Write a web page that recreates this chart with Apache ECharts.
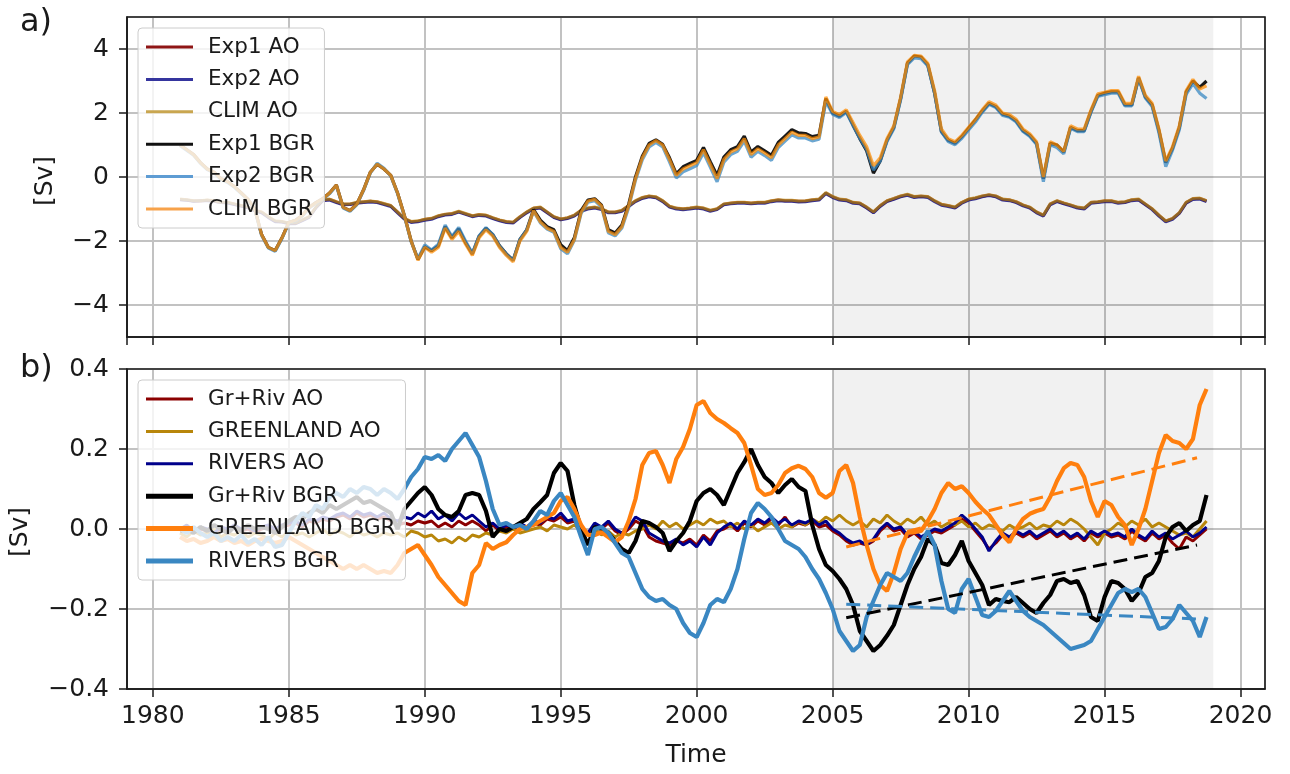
<!DOCTYPE html>
<html>
<head>
<meta charset="utf-8">
<title>Volume transport</title>
<script src="https://cdn.jsdelivr.net/npm/echarts@6/dist/echarts.min.js"></script>
<style>
  html, body { margin: 0; padding: 0; background: #fff; }
  #chart { width: 1290px; height: 774px; }
</style>
</head>
<body>
<div id="chart"></div>
<script>
// Quarterly samples, 1981.0 .. 2018.75
const START_YEAR = 1981;
const STEP = 0.25;

// ---------- panel a) : transports [Sv] ----------
const exp1AO = [
  -0.70, -0.72, -0.75, -0.75,  -0.73, -0.75, -0.80, -0.80,  -0.85, -0.90, -0.95, -1.05,  -1.10, -1.25, -1.38, -1.40,
  -1.45, -1.45, -1.35, -1.25,  -0.95, -0.72, -0.70, -0.78,  -0.85, -0.85, -0.80, -0.78,  -0.76, -0.78, -0.84, -0.90,
  -1.10, -1.30, -1.40, -1.38,  -1.33, -1.30, -1.22, -1.17,  -1.15, -1.08, -1.15, -1.22,  -1.18, -1.20, -1.28, -1.35,
  -1.40, -1.42, -1.25, -1.10,  -0.98, -0.95, -1.10, -1.25,  -1.32, -1.28, -1.20, -1.05,  -0.98, -0.95, -1.00, -1.10,
  -1.10, -1.05, -0.90, -0.75,  -0.65, -0.60, -0.63, -0.75,  -0.92, -0.98, -1.00, -0.98,  -0.95, -0.98, -1.05, -1.00,
  -0.85, -0.82, -0.80, -0.80,  -0.82, -0.80, -0.80, -0.75,  -0.72, -0.74, -0.74, -0.76,  -0.75, -0.72, -0.70, -0.50,
  -0.62, -0.70, -0.72, -0.80,  -0.82, -0.95, -1.10, -0.90,  -0.75, -0.68, -0.60, -0.55,  -0.62, -0.60, -0.62, -0.75,
  -0.86, -0.90, -0.95, -0.80,  -0.70, -0.66, -0.60, -0.56,  -0.60, -0.70, -0.72, -0.78,  -0.88, -0.95, -1.10, -1.20,
  -0.85, -0.75, -0.82, -0.88,  -0.95, -0.98, -0.80, -0.78,  -0.75, -0.75, -0.80, -0.78,  -0.72, -0.70, -0.85, -1.00,
  -1.20, -1.38, -1.30, -1.12,  -0.80, -0.68, -0.67, -0.75
];
const exp2AO = [
  -0.71, -0.73, -0.76, -0.74,  -0.74, -0.76, -0.80, -0.81,  -0.86, -0.91, -0.96, -1.06,  -1.12, -1.27, -1.40, -1.41,
  -1.46, -1.46, -1.36, -1.26,  -0.96, -0.74, -0.72, -0.80,  -0.87, -0.86, -0.82, -0.80,  -0.78, -0.80, -0.86, -0.92,
  -1.12, -1.32, -1.42, -1.40,  -1.35, -1.32, -1.24, -1.19,  -1.17, -1.10, -1.17, -1.24,  -1.20, -1.22, -1.30, -1.37,
  -1.42, -1.44, -1.27, -1.12,  -1.00, -0.97, -1.12, -1.27,  -1.34, -1.30, -1.22, -1.07,  -1.00, -0.97, -1.02, -1.12,
  -1.12, -1.07, -0.92, -0.77,  -0.67, -0.62, -0.65, -0.77,  -0.94, -1.00, -1.02, -1.00,  -0.97, -1.00, -1.07, -1.02,
  -0.87, -0.84, -0.82, -0.82,  -0.84, -0.82, -0.82, -0.77,  -0.74, -0.76, -0.76, -0.78,  -0.77, -0.74, -0.72, -0.52,
  -0.64, -0.72, -0.74, -0.82,  -0.84, -0.97, -1.12, -0.92,  -0.77, -0.70, -0.62, -0.57,  -0.64, -0.62, -0.64, -0.77,
  -0.88, -0.92, -0.97, -0.82,  -0.72, -0.68, -0.62, -0.58,  -0.62, -0.72, -0.74, -0.80,  -0.90, -0.97, -1.12, -1.22,
  -0.87, -0.77, -0.84, -0.90,  -0.97, -1.00, -0.82, -0.80,  -0.77, -0.77, -0.82, -0.80,  -0.74, -0.72, -0.87, -1.02,
  -1.22, -1.40, -1.32, -1.14,  -0.82, -0.70, -0.69, -0.77
];
const climAO = [
  -0.69, -0.71, -0.74, -0.74,  -0.72, -0.74, -0.79, -0.79,  -0.84, -0.89, -0.94, -1.04,  -1.09, -1.24, -1.37, -1.39,
  -1.44, -1.44, -1.34, -1.24,  -0.94, -0.71, -0.69, -0.77,  -0.84, -0.84, -0.79, -0.77,  -0.75, -0.77, -0.83, -0.89,
  -1.09, -1.29, -1.39, -1.37,  -1.32, -1.29, -1.21, -1.16,  -1.14, -1.07, -1.14, -1.21,  -1.17, -1.19, -1.27, -1.34,
  -1.39, -1.41, -1.24, -1.09,  -0.97, -0.94, -1.09, -1.24,  -1.31, -1.27, -1.19, -1.04,  -0.97, -0.94, -0.99, -1.09,
  -1.09, -1.04, -0.89, -0.74,  -0.64, -0.59, -0.62, -0.74,  -0.91, -0.97, -0.99, -0.97,  -0.94, -0.97, -1.04, -0.99,
  -0.84, -0.81, -0.79, -0.79,  -0.81, -0.79, -0.79, -0.74,  -0.71, -0.73, -0.73, -0.75,  -0.74, -0.71, -0.69, -0.49,
  -0.61, -0.69, -0.71, -0.79,  -0.81, -0.94, -1.09, -0.89,  -0.74, -0.67, -0.59, -0.54,  -0.61, -0.59, -0.61, -0.74,
  -0.85, -0.89, -0.94, -0.79,  -0.69, -0.65, -0.59, -0.55,  -0.59, -0.69, -0.71, -0.77,  -0.87, -0.94, -1.09, -1.19,
  -0.84, -0.74, -0.81, -0.87,  -0.94, -0.97, -0.79, -0.77,  -0.74, -0.74, -0.79, -0.77,  -0.71, -0.69, -0.84, -0.99,
  -1.19, -1.37, -1.29, -1.11,  -0.79, -0.67, -0.66, -0.74
];
const exp1BGR = [
   1.00,  0.85,  0.70,  0.45,   0.25,  0.15, -0.05, -0.15,  -0.30, -0.50, -0.70, -1.00,  -1.80, -2.20, -2.30, -1.90,
  -1.42, -1.35, -1.20, -0.95,  -0.80, -0.68, -0.50, -0.25,  -0.95, -1.05, -0.85, -0.40,   0.15,  0.40,  0.25,  0.05,
  -0.50, -1.20, -2.00, -2.58,  -2.18, -2.30, -2.15, -1.55,  -1.90, -1.62, -2.05, -2.40,  -1.85, -1.60, -1.80, -2.15,
  -2.40, -2.60, -1.95, -1.65,  -1.02, -1.35, -1.55, -1.65,  -2.12, -2.30, -1.90, -1.05,  -0.72, -0.68, -0.88, -1.65,
  -1.75, -1.50, -0.85,  0.00,   0.65,  1.05,  1.16,  1.02,   0.60,  0.10,  0.32,  0.42,   0.52,  0.92,  0.48,  0.05,
   0.62,  0.85,  0.95,  1.28,   0.78,  0.95,  0.82,  0.68,   1.08,  1.28,  1.48,  1.38,   1.36,  1.26,  1.30,  2.45,
   2.00,  1.90,  2.05,  1.62,   1.20,  0.82,  0.12,  0.50,   1.15,  1.55,  2.45,  3.55,   3.78,  3.75,  3.50,  2.62,
   1.42,  1.15,  1.05,  1.26,   1.52,  1.78,  2.06,  2.30,   2.20,  1.96,  1.90,  1.75,   1.45,  1.30,  1.05, -0.05,
   1.05,  1.00,  0.78,  1.55,   1.45,  1.45,  2.05,  2.55,   2.62,  2.66,  2.66,  2.25,   2.25,  3.10,  2.50,  2.25,
   1.45,  0.45,  0.90,  1.55,   2.65,  3.00,  2.80,  3.00
];
const exp2BGR = [
   0.98,  0.83,  0.68,  0.43,   0.23,  0.13, -0.07, -0.17,  -0.32, -0.52, -0.72, -1.02,  -1.82, -2.22, -2.32, -1.92,
  -1.44, -1.37, -1.22, -0.97,  -0.82, -0.70, -0.52, -0.27,  -0.97, -1.07, -0.87, -0.42,   0.13,  0.43,  0.27,  0.03,
  -0.52, -1.22, -2.02, -2.55,  -2.12, -2.28, -2.10, -1.50,  -1.86, -1.58, -2.00, -2.38,  -1.84, -1.58, -1.79, -2.16,
  -2.41, -2.61, -1.95, -1.66,  -1.07, -1.43, -1.63, -1.73,  -2.24, -2.40, -1.98, -1.14,  -0.79, -0.74, -0.94, -1.74,
  -1.84, -1.59, -0.95, -0.10,   0.54,  0.94,  1.08,  0.94,   0.47, -0.03,  0.16,  0.26,   0.36,  0.76,  0.31, -0.15,
   0.46,  0.70,  0.80,  1.12,   0.62,  0.80,  0.67,  0.52,   0.92,  1.12,  1.32,  1.22,   1.22,  1.13,  1.18,  2.36,
   1.96,  1.86,  2.02,  1.61,   1.21,  0.86,  0.22,  0.50,   1.11,  1.51,  2.41,  3.51,   3.72,  3.70,  3.47,  2.61,
   1.41,  1.11,  1.01,  1.21,   1.47,  1.72,  2.02,  2.27,   2.17,  1.92,  1.87,  1.72,   1.42,  1.27,  1.02, -0.15,
   1.01,  0.92,  0.72,  1.52,   1.42,  1.42,  2.02,  2.52,   2.57,  2.62,  2.62,  2.22,   2.22,  3.07,  2.47,  2.20,
   1.38,  0.32,  0.84,  1.48,   2.58,  2.92,  2.62,  2.45
];
const climBGR = [
   1.00,  0.85,  0.70,  0.45,   0.25,  0.15, -0.05, -0.15,  -0.30, -0.50, -0.70, -1.00,  -1.80, -2.20, -2.30, -1.90,
  -1.42, -1.35, -1.20, -0.95,  -0.80, -0.68, -0.50, -0.25,  -0.95, -1.05, -0.85, -0.40,   0.15,  0.40,  0.25,  0.05,
  -0.50, -1.20, -2.00, -2.60,  -2.20, -2.35, -2.20, -1.60,  -1.95, -1.70, -2.10, -2.45,  -1.90, -1.65, -1.85, -2.20,
  -2.45, -2.65, -2.00, -1.70,  -1.05, -1.40, -1.60, -1.70,  -2.20, -2.35, -1.95, -1.10,  -0.75, -0.70, -0.90, -1.70,
  -1.80, -1.55, -0.90, -0.05,   0.60,  1.00,  1.14,  1.00,   0.55,  0.05,  0.25,  0.35,   0.45,  0.85,  0.40, -0.05,
   0.55,  0.78,  0.88,  1.20,   0.70,  0.88,  0.75,  0.60,   1.00,  1.20,  1.40,  1.30,   1.30,  1.20,  1.25,  2.50,
   2.05,  1.95,  2.10,  1.70,   1.30,  0.95,  0.35,  0.60,   1.20,  1.60,  2.50,  3.60,   3.80,  3.78,  3.55,  2.70,
   1.50,  1.20,  1.10,  1.30,   1.55,  1.80,  2.10,  2.35,   2.25,  2.00,  1.95,  1.80,   1.50,  1.35,  1.10,  0.00,
   1.10,  1.00,  0.80,  1.60,   1.50,  1.50,  2.10,  2.60,   2.65,  2.70,  2.70,  2.30,   2.30,  3.15,  2.55,  2.30,
   1.50,  0.50,  0.95,  1.60,   2.70,  3.05,  2.75,  2.85
];

// ---------- panel b) : freshwater forcing contributions [Sv] ----------
const grRivAO = [
  -0.005, 0.005, -0.010, 0.000,  -0.005, -0.015, 0.000, -0.005,  0.005, -0.005, 0.000, -0.010,  0.000, 0.005, -0.005, 0.005,
   0.010, 0.015, 0.005, 0.020,   0.015, 0.025, 0.020, 0.030,   0.035, 0.025, 0.040, 0.030,   0.035, 0.025, 0.030, 0.020,
   0.010, 0.015, 0.010, 0.020,   0.015, 0.020, 0.005, 0.015,   0.005, 0.020, 0.010, 0.020,   0.010, -0.005, 0.010, -0.005,
   0.005, 0.000, 0.010, 0.000,   0.015, 0.010, 0.025, 0.020,   0.030, 0.015, 0.020, 0.000,  -0.015, 0.010, 0.000, 0.015,
  -0.005, -0.015, 0.000, 0.020,  0.010, -0.020, -0.030, -0.035, -0.040, -0.030, -0.035, -0.025, -0.040, -0.015, -0.030, -0.005,
   0.000, 0.010, -0.005, 0.015,  0.005, 0.020, 0.010, 0.025,   0.010, 0.030, 0.005, 0.015,   0.010, 0.020, 0.005, 0.010,
  -0.005, -0.015, -0.030, -0.040, -0.035, -0.040, -0.030, -0.005, 0.010, -0.005, 0.000, -0.020, -0.010, -0.025, -0.015, -0.005,
  -0.010, 0.000, 0.010, 0.025,   0.015, -0.005, -0.025, -0.050, -0.035, -0.015, -0.025, -0.010, -0.020, -0.010, -0.025, -0.015,
  -0.005, -0.020, -0.010, -0.025, -0.015, -0.030, -0.010, -0.020, -0.010, -0.020, -0.015, -0.025, -0.005, -0.020, -0.030, -0.010,
  -0.025, -0.015, -0.035, -0.050, -0.020, -0.030, -0.015, 0.000
];
const greenlandAO = [
  -0.010, -0.020, -0.005, -0.015, -0.010, 0.000, -0.020, -0.010, -0.015, -0.005, -0.020, -0.010, -0.015, -0.025, -0.010, -0.020,
  -0.005, -0.015, -0.010, -0.020, -0.010, 0.000, -0.015, -0.005, -0.010, -0.020, -0.005, -0.015, -0.010, -0.020, -0.010, -0.015,
  -0.010, -0.020, -0.005, -0.010, -0.020, -0.015, -0.030, -0.025, -0.035, -0.020, -0.030, -0.015, -0.020, -0.010, -0.015, -0.005,
  -0.010, 0.000, -0.010, -0.005,  0.000, 0.005, -0.005, 0.010,   0.005, 0.000, 0.010, -0.005,  -0.010, 0.000, -0.015, -0.005,
  -0.020, -0.010, -0.015, -0.005, 0.000, 0.010, 0.000, 0.020,    0.005, 0.015, 0.000, 0.010,   0.020, 0.010, 0.025, 0.015,
   0.020, 0.005, 0.015, 0.000,   0.010, -0.005, 0.005, 0.015,   0.000, 0.010, 0.005, 0.020,   0.010, 0.025, 0.015, 0.030,
   0.020, 0.035, 0.020, 0.010,   0.020, 0.005, 0.025, 0.015,   0.035, 0.020, 0.010, 0.025,   0.015, 0.030, 0.010, 0.020,
   0.005, 0.015, 0.010, 0.020,   0.005, 0.015, 0.000, 0.010,   0.005, -0.005, 0.010, 0.000,   0.005, 0.015, 0.000, 0.010,
   0.005, 0.020, 0.010, 0.025,   0.015, 0.000, -0.020, -0.040, -0.010, 0.000, 0.015, 0.005,   0.020, 0.010, 0.025, 0.005,
   0.015, 0.005, -0.005, -0.015, -0.010, -0.020, 0.000, 0.020
];
const riversAO = [
   0.000, 0.010, -0.005, 0.005,  0.000, -0.010, 0.005, 0.000,   0.010, 0.000, 0.005, -0.005,  0.005, 0.010, 0.000, 0.010,
   0.015, 0.020, 0.010, 0.025,   0.020, 0.030, 0.025, 0.035,   0.040, 0.030, 0.045, 0.035,   0.040, 0.030, 0.040, 0.025,
   0.020, 0.030, 0.025, 0.040,   0.030, 0.045, 0.025, 0.035,   0.020, 0.040, 0.025, 0.035,   0.020, 0.005, 0.015, 0.000,
   0.010, 0.005, 0.015, 0.005,   0.020, 0.015, 0.030, 0.025,   0.040, 0.020, 0.025, 0.005,  -0.010, 0.015, 0.005, 0.020,
   0.000, -0.010, 0.005, 0.030,  0.020, -0.010, -0.020, -0.030, -0.035, -0.025, -0.040, -0.030, -0.045, -0.020, -0.040, -0.010,
   0.005, 0.015, 0.000, 0.020,   0.010, 0.025, 0.015, 0.030,   0.015, 0.025, 0.010, 0.020,   0.015, 0.025, 0.010, 0.020,
   0.000, -0.010, -0.025, -0.035, -0.030, -0.040, -0.025, 0.000, 0.015, 0.000, 0.005, -0.015, -0.005, -0.020, -0.010, 0.000,
  -0.005, 0.005, 0.015, 0.035,   0.020, 0.000, -0.020, -0.055, -0.030, -0.010, -0.020, -0.005, -0.015, -0.005, -0.020, -0.010,
   0.000, -0.015, -0.005, -0.020, -0.010, -0.025, -0.005, -0.015, -0.005, -0.015, -0.010, -0.020, 0.000, -0.015, -0.025, -0.005,
  -0.020, -0.010, -0.025, -0.015, -0.005, -0.020, -0.010, 0.005
];
const grRivBGR = [
  -0.005, 0.000, -0.010, 0.005,  -0.005, 0.010, 0.000, -0.010,  0.005, -0.005, 0.010, 0.000,   0.005, 0.000, -0.010, 0.005,
   0.020, 0.030, 0.025, 0.040,   0.050, 0.040, 0.060, 0.050,   0.060, 0.070, 0.080, 0.065,   0.070, 0.060, 0.050, 0.040,
   0.000, 0.050, 0.070, 0.090,   0.105, 0.085, 0.050, 0.035,   0.030, 0.045, 0.085, 0.090,   0.085, 0.045, -0.020, 0.000,
  -0.005, 0.005, 0.015, 0.025,   0.050, 0.067, 0.085, 0.140,   0.165, 0.145, 0.060, 0.000,  -0.040, 0.005, 0.000, -0.010,
  -0.030, -0.050, -0.060, -0.030, 0.020, 0.015, 0.005, -0.010, -0.055, -0.030, -0.010, 0.020,  0.070, 0.090, 0.100, 0.085,
   0.060, 0.100, 0.140, 0.167,   0.200, 0.160, 0.130, 0.115,   0.090, 0.110, 0.125, 0.105,   0.095, 0.010, -0.050, -0.090,
  -0.105, -0.125, -0.150, -0.190, -0.255, -0.280, -0.305, -0.290, -0.267, -0.240, -0.190, -0.140, -0.100, -0.070, -0.025, -0.040,
  -0.085, -0.090, -0.065, -0.030, -0.080, -0.110, -0.140, -0.190, -0.175, -0.180, -0.183, -0.170, -0.185, -0.200, -0.210, -0.185,
  -0.165, -0.130, -0.125, -0.135, -0.130, -0.165, -0.220, -0.230, -0.170, -0.130, -0.135, -0.150, -0.180, -0.160, -0.120, -0.110,
  -0.080, -0.020, 0.005, 0.015,  -0.005, 0.010, 0.020, 0.085
];
const greenlandBGR = [
  -0.020, -0.030, -0.025, -0.035, -0.030, -0.020, -0.030, -0.025, -0.035, -0.030, -0.040, -0.030, -0.025, -0.030, -0.035, -0.030,
  -0.020, -0.030, -0.040, -0.050, -0.060, -0.070, -0.080, -0.090, -0.100, -0.090, -0.100, -0.090, -0.100, -0.110, -0.105, -0.110,
  -0.090, -0.060, -0.050, -0.040, -0.065, -0.090, -0.120, -0.140, -0.160, -0.180, -0.190, -0.110, -0.090, -0.035, -0.050, -0.040,
  -0.033, -0.015, 0.000, 0.005,   0.010, 0.020, 0.030, 0.040,   0.070, 0.080, 0.050, 0.010,  -0.015, -0.015, -0.008, -0.020,
  -0.033, -0.020, 0.020, 0.075,   0.160, 0.190, 0.195, 0.160,   0.115, 0.175, 0.205, 0.250,   0.310, 0.320, 0.290, 0.275,
   0.265, 0.252, 0.240, 0.215,   0.160, 0.100, 0.085, 0.090,   0.110, 0.140, 0.152, 0.158,   0.150, 0.130, 0.090, 0.078,
   0.090, 0.145, 0.160, 0.115,   0.030, -0.040, -0.100, -0.140, -0.155, -0.110, -0.050, -0.010, -0.008, -0.005, 0.020, 0.050,
   0.090, 0.115, 0.100, 0.107,   0.090, 0.068, 0.050, 0.035,   0.010, -0.015, -0.033, 0.000,  0.025, 0.038, 0.045, 0.050,
   0.080, 0.120, 0.152, 0.165,   0.160, 0.130, 0.070, 0.030,   0.070, 0.060, 0.030, 0.010,  -0.040, 0.000, 0.050, 0.120,
   0.190, 0.235, 0.220, 0.215,   0.200, 0.225, 0.310, 0.350
];
const riversBGR = [
   0.000, -0.010, 0.005, -0.010, -0.020, -0.010, -0.030, -0.020, -0.030, -0.015, -0.035, -0.025, -0.040, -0.020, -0.045, -0.040,
  -0.010, 0.020, 0.040, 0.030,   0.060, 0.050, 0.080, 0.090,   0.080, 0.100, 0.090, 0.105,   0.100, 0.085, 0.100, 0.090,
   0.075, 0.100, 0.130, 0.150,   0.180, 0.175, 0.185, 0.170,   0.200, 0.220, 0.240, 0.210,   0.180, 0.120, 0.050, 0.010,
   0.015, 0.005, 0.010, 0.000,   0.020, 0.045, 0.035, 0.070,   0.090, 0.060, 0.030, -0.020,  -0.065, 0.000, 0.005, -0.010,
  -0.035, -0.060, -0.070, -0.110, -0.150, -0.170, -0.180, -0.175, -0.190, -0.200, -0.235, -0.260, -0.270, -0.235, -0.190, -0.175,
  -0.183, -0.150, -0.100, -0.025, 0.040, 0.065, 0.050, 0.030,   0.000, -0.030, -0.040, -0.050, -0.070, -0.100, -0.125, -0.160,
  -0.200, -0.255, -0.280, -0.305, -0.290, -0.220, -0.180, -0.140, -0.110, -0.120, -0.130, -0.110, -0.070, -0.035, -0.005, -0.040,
  -0.130, -0.200, -0.210, -0.150, -0.125, -0.170, -0.215, -0.220, -0.205, -0.180, -0.155, -0.180, -0.205, -0.220, -0.230, -0.240,
  -0.255, -0.270, -0.285, -0.300, -0.295, -0.290, -0.280, -0.250, -0.220, -0.190, -0.160, -0.150, -0.158, -0.150, -0.170, -0.210,
  -0.250, -0.245, -0.225, -0.190, -0.210, -0.230, -0.270, -0.220
];

// Linear trends over the shaded period (start, end)
const trendYears = [2005.5, 2018.4];
const greenlandTrend = [-0.045, 0.178];
const grRivTrend = [-0.222, -0.040];
const riversTrend = [-0.188, -0.225];

// Shaded period
const shadeYears = [2005, 2019];

// Labelled y ticks of panel a)
const svTicksA = [-4, -2, 0, 2, 4];

function pairs(values) {
  return values.map((v, i) => [START_YEAR + i * STEP, v]);
}
function zipPairs(xs, ys) {
  return xs.map((x, i) => [x, ys[i]]);
}
function minus(s) { return String(s).replace('-', '\u2212'); }

const FONT = 'DejaVu Sans';
const INK = '#1a1a1a';
const GRID_LINE = '#c2c2c2';
const PANEL_A = { left: 127, top: 17, width: 1138, height: 320 };
const PANEL_B = { left: 127, top: 369, width: 1138, height: 320 };

const chart = echarts.init(document.getElementById('chart'), null, { renderer: 'canvas' });

function xAxis(gridIndex, showLabels) {
  return {
    type: 'value', gridIndex,
    min: 1979.05, max: 2020.9,
    splitNumber: 8, minInterval: 5, maxInterval: 5,
    axisLine: { show: true, onZero: false, lineStyle: { color: INK, width: 1.5 } },
    axisTick: { show: true, length: 8, lineStyle: { color: INK, width: 1.5 } },
    axisLabel: {
      show: showLabels, margin: 15, fontSize: 25, fontFamily: FONT, color: INK,
      showMinLabel: false, showMaxLabel: false,
      formatter: v => (Math.abs(v % 5) < 1e-6 ? String(v) : '')
    },
    splitLine: { show: true, lineStyle: { color: GRID_LINE, width: 2 } }
  };
}

const lineBase = { type: 'line', showSymbol: false, symbol: 'none', silent: true, z: 3, animation: false };

function series(name, data, axis, color, width, opacity) {
  return Object.assign({}, lineBase, {
    name, data: pairs(data), xAxisIndex: axis, yAxisIndex: axis,
    itemStyle: { color },
    lineStyle: { color, width, opacity }
  });
}
function trend(data, color) {
  return Object.assign({}, lineBase, {
    data: zipPairs(trendYears, data), xAxisIndex: 1, yAxisIndex: 1,
    itemStyle: { color },
    lineStyle: { color, width: 3, type: [14, 7] }, z: 4
  });
}
function shade(axis) {
  return {
    type: 'line', xAxisIndex: axis, yAxisIndex: axis, silent: true, z: 1,
    showSymbol: false, symbol: 'none', data: [[shadeYears[0], 0]],
    lineStyle: { opacity: 0 },
    markArea: {
      silent: true,
      itemStyle: { color: 'rgba(0,0,0,0.055)' },
      data: [[{ xAxis: shadeYears[0] }, { xAxis: shadeYears[1] }]]
    }
  };
}
function frame(p) {
  return {
    type: 'rect', z: 100, silent: true,
    shape: { x: p.left, y: p.top, width: p.width, height: p.height },
    style: { fill: null, stroke: INK, lineWidth: 1.6 }
  };
}

const legendBase = {
  orient: 'vertical', selectedMode: false, left: 138,
  itemWidth: 47, itemHeight: 5, itemGap: 10.4,
  padding: [8, 10, 8, 8],
  backgroundColor: 'rgba(255,255,255,0.8)',
  borderColor: '#cccccc', borderWidth: 1, borderRadius: 4,
  textStyle: { fontSize: 21.5, fontFamily: FONT, color: INK, lineHeight: 21, padding: [0, 0, 0, 10] }
};
const thin = 'path://M0,0H47V3H0Z';
const thick = 'path://M0,0H47V5H0Z';

const yLabelA = {
  margin: 18, fontSize: 25, fontFamily: FONT, color: INK,
  showMinLabel: false, showMaxLabel: false,
  formatter: v => (svTicksA.indexOf(v) >= 0 ? minus(v) : '')
};

chart.setOption({
  animation: false,
  grid: [
    Object.assign({ show: false }, PANEL_A),
    Object.assign({ show: false }, PANEL_B)
  ],
  xAxis: [xAxis(0, false), xAxis(1, true)],
  yAxis: [
    {
      type: 'value', gridIndex: 0, min: -5, max: 5, splitNumber: 5, minInterval: 2, maxInterval: 2,
      axisLine: { show: true, lineStyle: { color: INK, width: 1.5 } },
      axisTick: { show: true, length: 8, lineStyle: { color: INK, width: 1.5 } },
      axisLabel: yLabelA,
      splitLine: { show: true, lineStyle: { color: GRID_LINE, width: 2 } }
    },
    {
      type: 'value', gridIndex: 1, min: -0.4, max: 0.4, interval: 0.2,
      axisLine: { show: true, lineStyle: { color: INK, width: 1.5 } },
      axisTick: { show: true, length: 8, lineStyle: { color: INK, width: 1.5 } },
      axisLabel: {
        margin: 18, fontSize: 25, fontFamily: FONT, color: INK,
        formatter: v => minus(v.toFixed(1))
      },
      splitLine: { show: true, lineStyle: { color: GRID_LINE, width: 2 } }
    }
  ],
  legend: [
    Object.assign({}, legendBase, {
      top: 28,
      data: [
        { name: 'Exp1 AO', icon: thin, itemStyle: { color: '#8f1515' } },
        { name: 'Exp2 AO', icon: thin, itemStyle: { color: '#35359e' } },
        { name: 'CLIM AO', icon: thin, itemStyle: { color: '#c9a650' } },
        { name: 'Exp1 BGR', icon: thin, itemStyle: { color: '#111111' } },
        { name: 'Exp2 BGR', icon: thin, itemStyle: { color: '#5e9cd3' } },
        { name: 'CLIM BGR', icon: thin, itemStyle: { color: '#f7a24a' } }
      ]
    }),
    Object.assign({}, legendBase, {
      top: 380,
      data: [
        { name: 'Gr+Riv AO', icon: thin, itemStyle: { color: '#8b0000' } },
        { name: 'GREENLAND AO', icon: thin, itemStyle: { color: '#b8860b' } },
        { name: 'RIVERS AO', icon: thin, itemStyle: { color: '#00008b' } },
        { name: 'Gr+Riv BGR', icon: thick, itemStyle: { color: '#000000' } },
        { name: 'GREENLAND BGR', icon: thick, itemStyle: { color: '#ff7f0e' } },
        { name: 'RIVERS BGR', icon: thick, itemStyle: { color: '#3a87c2' } }
      ]
    })
  ],
  graphic: [
    frame(PANEL_A),
    frame(PANEL_B),
    { type: 'text', left: 20, top: 7, style: { text: 'a)', font: '32px "DejaVu Sans"', fill: INK } },
    { type: 'text', left: 20, top: 353, style: { text: 'b)', font: '32px "DejaVu Sans"', fill: INK } },
    { type: 'text', x: 45, y: 181, rotation: Math.PI / 2,
      style: { text: '[Sv]', font: '25px "DejaVu Sans"', fill: INK, align: 'center', verticalAlign: 'middle' } },
    { type: 'text', x: 20, y: 532, rotation: Math.PI / 2,
      style: { text: '[Sv]', font: '25px "DejaVu Sans"', fill: INK, align: 'center', verticalAlign: 'middle' } },
    { type: 'text', x: 696, y: 755,
      style: { text: 'Time', font: '25px "DejaVu Sans"', fill: INK, align: 'center', verticalAlign: 'middle' } }
  ],
  series: [
    shade(0),
    series('Exp1 AO', exp1AO, 0, '#8b0000', 3, 0.75),
    series('Exp2 AO', exp2AO, 0, '#000080', 3, 0.75),
    series('CLIM AO', climAO, 0, '#b8860b', 3, 0.7),
    series('Exp1 BGR', exp1BGR, 0, '#000000', 3.2, 0.9),
    series('Exp2 BGR', exp2BGR, 0, '#3a88c2', 3.2, 0.75),
    series('CLIM BGR', climBGR, 0, '#ff8c00', 3.2, 0.72),
    shade(1),
    series('Gr+Riv AO', grRivAO, 1, '#8b0000', 3, 1),
    series('GREENLAND AO', greenlandAO, 1, '#b8860b', 3, 1),
    series('RIVERS AO', riversAO, 1, '#00008b', 3, 1),
    series('Gr+Riv BGR', grRivBGR, 1, '#000000', 4.2, 1),
    series('GREENLAND BGR', greenlandBGR, 1, '#ff7f0e', 4.2, 1),
    series('RIVERS BGR', riversBGR, 1, '#3a87c2', 4.2, 1),
    trend(greenlandTrend, '#ff7f0e'),
    trend(grRivTrend, '#000000'),
    trend(riversTrend, '#3a87c2')
  ]
});
</script>
</body>
</html>
